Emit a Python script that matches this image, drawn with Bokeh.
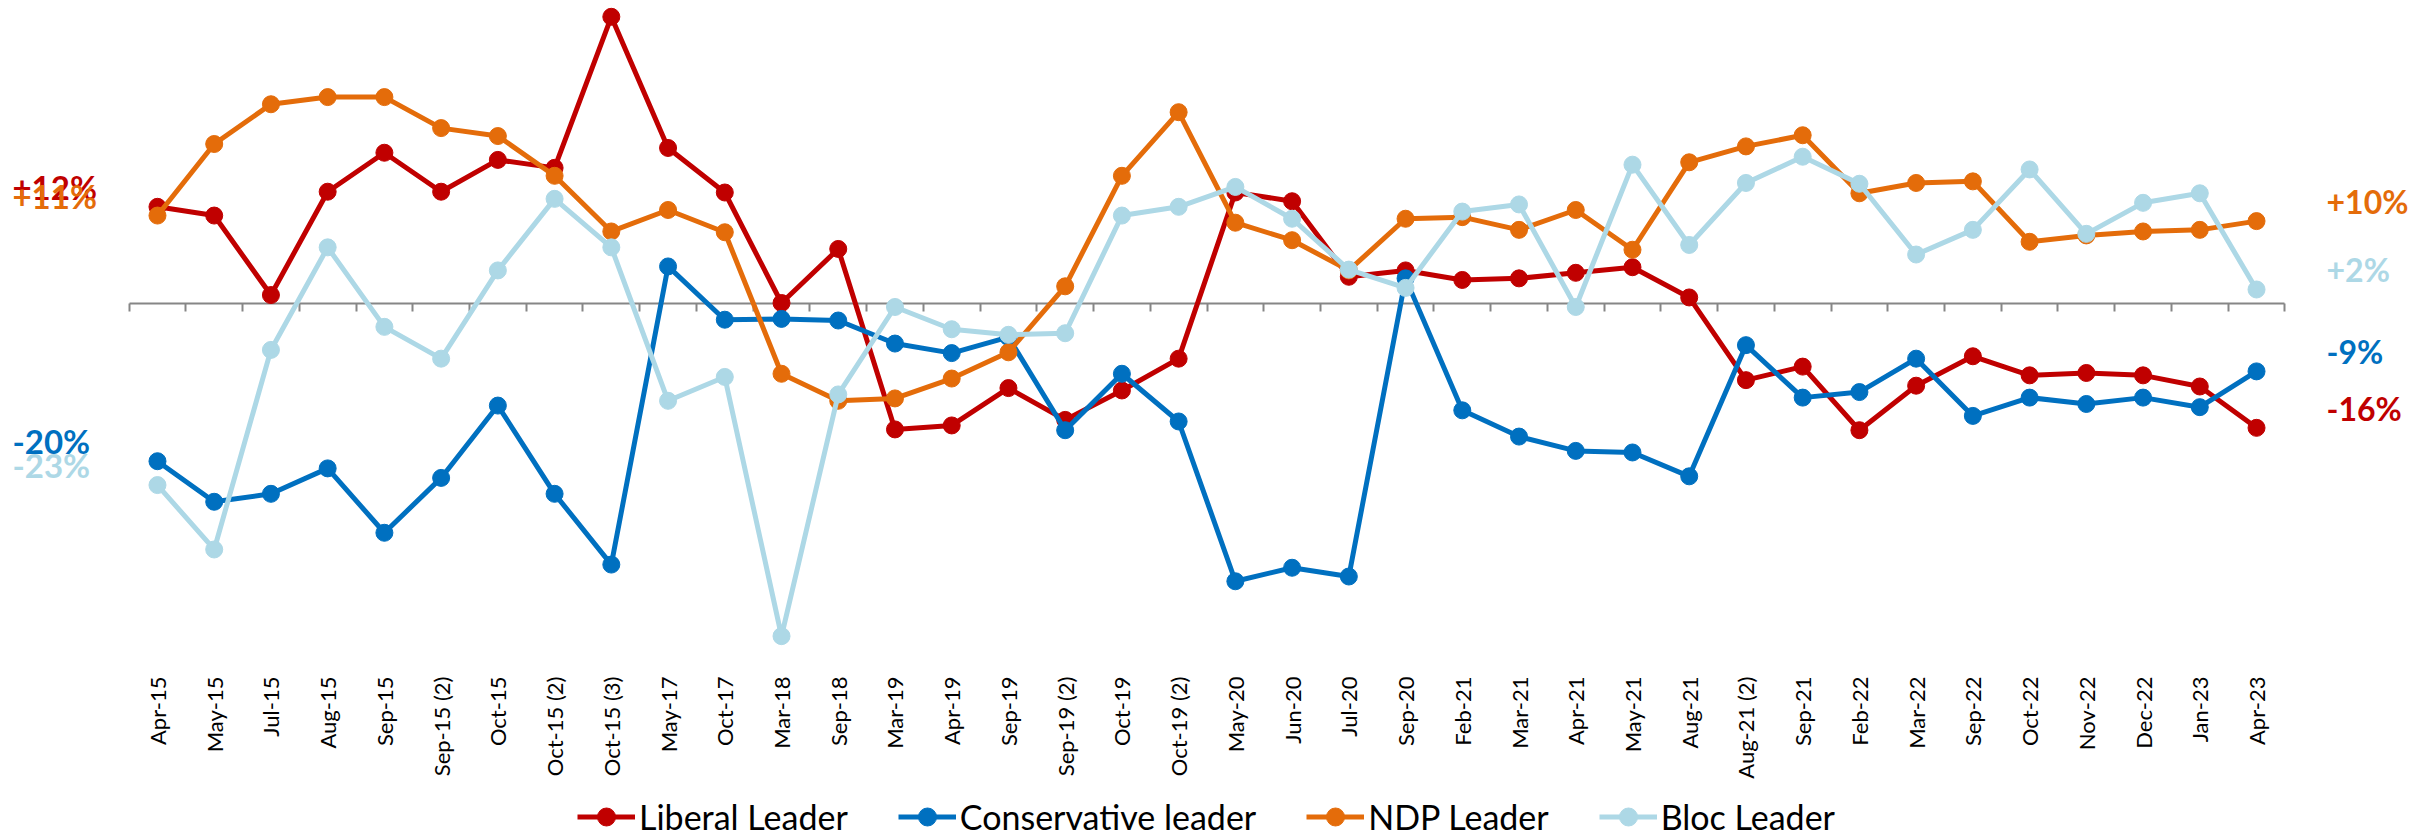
import math
from bokeh.plotting import figure
from bokeh.models import (FactorRange, Range1d, LinearAxis, FixedTicker,
                          ColumnDataSource, LabelSet, Legend, LegendItem)
from bokeh.core.properties import value
from bokeh.embed import file_html
from bokeh.resources import INLINE

categories = ["Apr-15", "May-15", "Jul-15", "Aug-15", "Sep-15", "Sep-15 (2)", "Oct-15",
              "Oct-15 (2)", "Oct-15 (3)", "May-17", "Oct-17", "Mar-18", "Sep-18", "Mar-19",
              "Apr-19", "Sep-19", "Sep-19 (2)", "Oct-19", "Oct-19 (2)", "May-20", "Jun-20",
              "Jul-20", "Sep-20", "Feb-21", "Mar-21", "Apr-21", "May-21", "Aug-21",
              "Aug-21 (2)", "Sep-21", "Feb-22", "Mar-22", "Sep-22", "Oct-22", "Nov-22",
              "Dec-22", "Jan-23", "Apr-23"]

liberal = [12.1, 11.0, 1.0, 14.0, 18.9, 14.0, 18.0, 17.0, 36.0, 19.5, 13.9, 0.0, 6.8,
           -15.9, -15.4, -10.7, -14.7, -11.0, -7.0, 13.9, 12.8, 3.3, 4.1, 2.9, 3.1, 3.8,
           4.5, 0.7, -9.7, -8.0, -16.0, -10.4, -6.7, -9.1, -8.8, -9.1, -10.5, -15.7]

conservative = [-19.9, -25.0, -24.0, -20.8, -28.9, -22.0, -12.9, -24.0, -32.9, 4.6, -2.1,
                -2.0, -2.2, -5.1, -6.3, -4.3, -16.0, -8.9, -14.9, -35.0, -33.3, -34.4, 3.1,
                -13.5, -16.8, -18.6, -18.8, -21.8, -5.3, -11.9, -11.2, -7.0, -14.2, -11.9,
                -12.7, -11.9, -13.1, -8.6]

ndp = [11.0, 20.0, 25.0, 25.9, 25.9, 22.0, 21.0, 16.0, 9.0, 11.7, 8.9, -8.9, -12.3, -12.0,
       -9.5, -6.2, 2.1, 16.0, 24.0, 10.1, 7.9, 4.1, 10.6, 10.8, 9.2, 11.7, 6.7, 17.7, 19.7,
       21.1, 13.8, 15.1, 15.3, 7.7, 8.5, 9.0, 9.2, 10.3]

bloc = [-22.9, -31.0, -5.9, 7.0, -3.0, -7.0, 4.1, 13.1, 7.0, -12.3, -9.3, -41.9, -11.5,
        -0.5, -3.3, -4.0, -3.8, 11.0, 12.1, 14.6, 10.6, 4.2, 1.9, 11.5, 12.4, -0.5, 17.4,
        7.3, 15.1, 18.4, 15.0, 6.1, 9.2, 16.8, 8.7, 12.6, 13.8, 1.7]

series_names = ["Liberal Leader", "Conservative leader", "NDP Leader", "Bloc Leader"]
series_colors = ["#C00000", "#0070C0", "#E46C0A", "#ADD8E6"]
series_values = [liberal, conservative, ndp, bloc]

N = len(categories)
PAD = 2.267
FONT = "Lato"
PLOT_BOTTOM = -46.23   # value at the bottom edge of the plot area (category labels sit here)

p = figure(width=2413, height=839,
           x_range=FactorRange(*categories, range_padding=PAD, range_padding_units="absolute"),
           y_range=Range1d(-67.48, 38.05),
           output_backend="svg", toolbar_location=None, y_axis_location=None,
           min_border_left=0, min_border_right=0, min_border_top=0, min_border_bottom=0)
p.outline_line_color = None
p.xgrid.visible = False
p.ygrid.visible = False
p.background_fill_color = "white"
p.border_fill_color = "white"

# category axis at bottom of the plot area
ax = p.xaxis[0]
ax.fixed_location = PLOT_BOTTOM
ax.axis_line_color = None
ax.major_tick_line_color = None
ax.major_tick_out = 0
ax.major_tick_in = 0
ax.major_label_orientation = math.pi / 2
ax.major_label_standoff = 6
ax.major_label_text_font = FONT
ax.major_label_text_font_size = "22px"
ax.major_label_text_color = "black"

# zero axis with tick marks at category boundaries
bounds = list(range(N + 1))
zax = LinearAxis(fixed_location=0,
                 ticker=FixedTicker(ticks=bounds, minor_ticks=[]),
                 bounds=(0, N),
                 major_label_overrides={b: "" for b in bounds},
                 axis_line_color="#868686", axis_line_width=2,
                 major_tick_line_color="#868686", major_tick_line_width=2,
                 major_tick_out=8, major_tick_in=0,
                 minor_tick_line_color=None, major_label_standoff=0)
zax.level = "underlay"
p.add_layout(zax, "below")

items = []
for name, vals, color in zip(series_names, series_values, series_colors):
    src = ColumnDataSource(dict(x=categories, y=vals))
    r1 = p.line("x", "y", source=src, line_color=color, line_width=5)
    r2 = p.scatter("x", "y", source=src, size=17, fill_color=color, line_color=color)
    items.append(LegendItem(label=name, renderers=[r1, r2]))

legend = Legend(items=items, orientation="horizontal", location=(577, 0),
                glyph_width=58, glyph_height=45, label_standoff=4, spacing=50,
                padding=0, margin=0, border_line_color=None, background_fill_alpha=0,
                label_text_font=FONT, label_text_font_size="34px",
                label_text_color="black")
p.add_layout(legend, "center")


def fmt(v):
    return f"{v:+.0f}%"


first_src = ColumnDataSource(dict(
    x=[categories[0]] * len(series_values),
    y=[s[0] for s in series_values],
    text=[fmt(s[0]) for s in series_values],
    color=series_colors))
last_src = ColumnDataSource(dict(
    x=[categories[-1]] * len(series_values),
    y=[s[-1] for s in series_values],
    text=[fmt(s[-1]) for s in series_values],
    color=series_colors))

p.add_layout(LabelSet(x="x", y="y", text="text", source=first_src, text_color="color",
                      text_align="left", text_baseline="bottom", x_offset=-145,
                      text_font=value(FONT), text_font_style="bold", text_font_size="33px"))
p.add_layout(LabelSet(x="x", y="y", text="text", source=last_src, text_color="color",
                      text_align="left", text_baseline="bottom", x_offset=70,
                      text_font=value(FONT), text_font_style="bold", text_font_size="32px"))

open("out.html", "w").write(file_html(p, INLINE))
